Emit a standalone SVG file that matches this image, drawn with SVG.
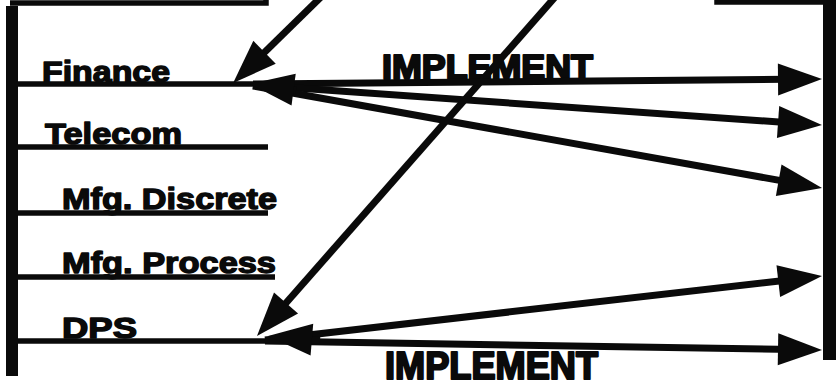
<svg xmlns="http://www.w3.org/2000/svg" width="836" height="389" viewBox="0 0 836 389">
  <style>
    .lbl { font-family: "Liberation Sans", Arial, Helvetica, sans-serif; font-weight: bold; fill: #0a0a0a; stroke: #0a0a0a; stroke-width: 1.4; stroke-linejoin: round; }
    .big { stroke-width: 2.2; }
    .rule { stroke: #0a0a0a; stroke-width: 5.5; fill: none; }
    .bar { fill: #0a0a0a; }
    .arrow { stroke: #0a0a0a; stroke-width: 7; fill: none; marker-end: url(#head); }
  </style>
  <defs>
    <marker id="head" markerUnits="userSpaceOnUse" viewBox="0 0 46 34" markerWidth="46" markerHeight="34" refX="33" refY="17" orient="auto">
      <path d="M1,1 L45,17 L1,33 Z" fill="#0a0a0a"/>
    </marker>
  </defs>
  <rect x="0" y="0" width="836" height="389" fill="#ffffff"/>

  <g id="left-frame">
    <path class="rule" d="M266,0 V3 H10"/>
    <rect class="bar" x="6" y="6" width="12" height="370"/>
  </g>
  <g id="right-frame">
    <path class="rule" d="M717,0 V2 H826"/>
    <rect class="bar" x="823" y="0" width="13" height="360"/>
  </g>

  <g id="finance">
    <line class="rule" x1="16" y1="84" x2="256" y2="84"/>
    <text class="lbl" x="42" y="82" font-size="30" textLength="128" lengthAdjust="spacingAndGlyphs">Finance</text>
  </g>
  <g id="telecom">
    <line class="rule" x1="16" y1="147" x2="268" y2="147"/>
    <text class="lbl" x="45" y="144" font-size="30" textLength="137" lengthAdjust="spacingAndGlyphs">Telecom</text>
  </g>
  <g id="mfg-discrete">
    <line class="rule" x1="16" y1="213" x2="268" y2="213"/>
    <text class="lbl" x="62" y="209" font-size="30" textLength="215" lengthAdjust="spacingAndGlyphs">Mfg. Discrete</text>
  </g>
  <g id="mfg-process">
    <line class="rule" x1="16" y1="277" x2="275" y2="277"/>
    <text class="lbl" x="62" y="273" font-size="30" textLength="214" lengthAdjust="spacingAndGlyphs">Mfg. Process</text>
  </g>
  <g id="dps">
    <line class="rule" x1="16" y1="341" x2="268" y2="341"/>
    <text class="lbl" x="62" y="338" font-size="30" textLength="75" lengthAdjust="spacingAndGlyphs">DPS</text>
  </g>

  <g id="label-implement-top">
    <text class="lbl big" x="382" y="79" font-size="35" textLength="211" lengthAdjust="spacingAndGlyphs">IMPLEMENT</text>
  </g>
  <g id="label-implement-bottom">
    <text class="lbl big" x="385" y="379" font-size="39" textLength="213" lengthAdjust="spacingAndGlyphs">IMPLEMENT</text>
  </g>

  <g id="connectors">
    <path class="arrow" d="M322,-4 L241.7,74.7"/>
    <path class="arrow" d="M556,-4 L264.9,327"/>
    <path class="arrow" d="M253,84 L810,79.1"/>
    <path class="arrow" d="M253,85 L810,124.2"/>
    <path class="arrow" d="M253,86 L810.2,185.9"/>
    <path class="arrow" d="M296,90 L261.9,85.5"/>
    <path class="arrow" d="M265,340 L810.1,277.4"/>
    <path class="arrow" d="M265,341 L810,349.8"/>
    <path class="arrow" d="M320,340.3 L280,337"/>
  </g>
</svg>
